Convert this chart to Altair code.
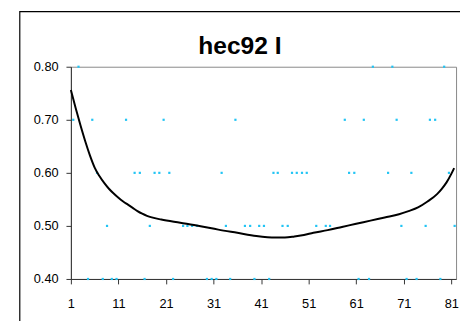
import altair as alt
import pandas as pd

# Curve (trend line)
curve_x = [1, 2, 3, 4, 5, 6, 7, 8, 9, 10, 11, 12, 13, 14, 15, 16, 17, 18, 20, 24, 28, 32,
           36, 40, 44, 46, 48, 50, 52, 55, 58, 61, 64, 67, 70, 72, 74, 76, 78, 79, 80, 81, 81.6]
curve_y = [0.756, 0.722, 0.690, 0.660, 0.633, 0.610, 0.594, 0.581, 0.570, 0.561, 0.553,
           0.546, 0.540, 0.534, 0.528, 0.523, 0.519, 0.516, 0.512, 0.506, 0.500, 0.493,
           0.487, 0.481, 0.478, 0.478, 0.480, 0.483, 0.487, 0.492, 0.498, 0.504, 0.510,
           0.516, 0.522, 0.528, 0.535, 0.546, 0.560, 0.570, 0.582, 0.598, 0.609]

# Scatter points by level
x_080 = [2.6, 64.5, 68.6, 79.5]
x_070 = [1.5, 5.5, 12.6, 20.5, 35.6, 58.6, 62.6, 69.5, 76.5, 77.6]
x_060 = [6.5, 14.4, 15.5, 18.6, 19.6, 21.7, 32.7, 43.6, 44.5, 47.5, 48.5, 49.6, 50.6,
         59.5, 60.6, 67.7, 72.6, 80.5]
x_050 = [8.6, 17.6, 24.6, 25.5, 26.5, 27.5, 33.6, 37.6, 38.7, 40.6, 41.6, 45.5, 46.6,
         52.6, 54.6, 55.5, 70.5, 75.6, 81.7]
x_040 = [4.6, 7.7, 9.6, 10.6, 16.5, 22.5, 29.6, 30.6, 31.6, 34.5, 39.6, 42.7, 61.5,
         63.7, 71.6, 73.7, 78.7]

y_ticks = [0.4, 0.5, 0.6, 0.7, 0.8]
x_ticks = [1, 11, 21, 31, 41, 51, 61, 71, 81]
title_text = ["hec92 I"]

pts = []
for lvl, xs in [(0.8, x_080), (0.7, x_070), (0.6, x_060), (0.5, x_050), (0.4, x_040)]:
    for v in xs:
        pts.append({"x": v, "y": lvl})
pts_df = pd.DataFrame(pts)
curve_df = pd.DataFrame({"x": curve_x, "y": curve_y})

FONT = "Liberation Sans"

xscale = alt.Scale(domain=[1, 82], nice=False, zero=False)
yscale = alt.Scale(domain=[0.4, 0.8], nice=False, zero=False)

xaxis = alt.Axis(values=x_ticks, title=None, grid=False, tickSize=5, labelPadding=14,
                 domainColor="#333333", tickColor="#333333", labelFont=FONT,
                 labelFontSize=13, labelColor="black", labelFlush=False)
yaxis = alt.Axis(values=y_ticks, format=".2f", title=None, grid=False, tickSize=5,
                 labelPadding=8, domainColor="#333333", tickColor="#333333",
                 labelFont=FONT, labelFontSize=13, labelColor="black")

border = alt.Chart(pd.DataFrame({"a": [0]})).mark_rect(
    fill=None, stroke="black", strokeWidth=1.2, clip=False
).encode(
    x=alt.value(-52), x2=alt.value(420), y=alt.value(-56), y2=alt.value(300)
)

title = alt.Chart(pd.DataFrame({"t": title_text})).mark_text(
    font=FONT, fontSize=25, fontWeight="bold", color="black",
    align="center", baseline="alphabetic", clip=False
).encode(text="t:N", x=alt.value(172), y=alt.value(-13))

points = alt.Chart(pts_df).mark_square(size=5, color="#22C4F4", opacity=1, clip=False).encode(
    x=alt.X("x:Q", scale=xscale, axis=xaxis),
    y=alt.Y("y:Q", scale=yscale, axis=yaxis),
)

line = alt.Chart(curve_df).mark_line(color="black", strokeWidth=2, interpolate="monotone").encode(
    x=alt.X("x:Q", scale=xscale),
    y=alt.Y("y:Q", scale=yscale),
)

chart = alt.layer(border, title, points, line).properties(
    width=392, height=216,
    autosize=alt.AutoSizeParams(type="none"),
    padding={"left": 64, "top": 57, "right": 4, "bottom": 40},
).configure_view(stroke="#888888", strokeWidth=1)

chart.save("out.html", embed_options={"renderer": "svg", "actions": False})
